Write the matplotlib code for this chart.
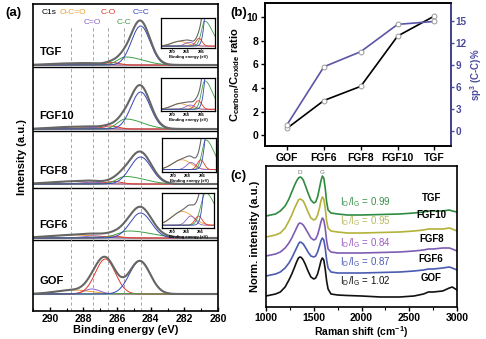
import matplotlib
matplotlib.use("Agg")
import matplotlib.pyplot as plt
import numpy as np
from matplotlib.ticker import MultipleLocator

plt.rcParams['font.family'] = ['Liberation Sans', 'DejaVu Sans']
plt.rcParams['font.weight'] = 'bold'
plt.rcParams['axes.labelweight'] = 'bold'
plt.rcParams['mathtext.default'] = 'regular'

W, H = 486, 339

# ---------------- XPS C1s fits (panel a) ----------------
samples = ['GOF', 'FGF6', 'FGF8', 'FGF10', 'TGF']
comp_names = ['O-C=O', 'C=O', 'C-O', 'C-C', 'C=C']
comp_colors = ['#f0a030', '#8a62c8', '#e0392a', '#3f9f45', '#3444b8']
comp_centers = [288.75, 287.45, 286.55, 285.6, 284.6]
label_pos = [288.6, 287.5, 286.55, 285.6, 284.6]
# vertical offset of each spectrum in the stack
offsets = [17, 73, 127, 182, 246]
# [center, width on high-BE side, width on low-BE side, height] per component
peaks = {
    'GOF':   [[288.6, 2.5, 2.5, 4.0], [287.5, 1.1, 1.1, 5.0], [286.7, 1.4, 1.4, 35.0],
              [285.6, 1.2, 1.2, 0.5], [284.65, 1.45, 1.45, 33.0]],
    'FGF6':  [[288.6, 3.5, 3.5, 3.0], [287.4, 1.5, 1.5, 2.0], [286.3, 1.2, 1.2, 2.0],
              [285.3, 1.6, 3.2, 7.0], [284.6, 1.5, 1.5, 25.0]],
    'FGF8':  [[288.8, 3.0, 3.0, 2.5], [287.5, 1.5, 1.5, 1.8], [286.2, 1.1, 1.1, 2.5],
              [285.5, 1.2, 2.6, 7.5], [284.6, 1.5, 1.5, 27.0]],
    'FGF10': [[288.9, 2.6, 2.6, 2.0], [287.5, 1.5, 1.5, 1.5], [286.4, 1.1, 1.1, 3.0],
              [285.5, 1.1, 2.4, 10.0], [284.6, 1.35, 1.35, 37.0]],
    'TGF':   [[289.0, 2.5, 2.5, 1.5], [287.6, 1.5, 1.5, 1.2], [286.3, 1.0, 1.0, 2.5],
              [285.5, 1.1, 2.4, 8.0], [284.6, 1.3, 1.3, 39.0]],
}
inset_top = {'FGF6': 7, 'FGF8': 8, 'FGF10': 11, 'TGF': 9}
# inset boxes in pixels: left, top, right, bottom
inset_box = {'TGF': (161, 18, 215, 48), 'FGF10': (161, 78, 215, 111),
             'FGF8': (162, 138, 216, 172), 'FGF6': (162, 193, 214, 228)}

# ---------------- panel b ----------------
b_cats = ['GOF', 'FGF6', 'FGF8', 'FGF10', 'TGF']
ratio = [0.6, 2.95, 4.15, 8.4, 10.1]
sp3 = [0.9, 8.75, 10.8, 14.5, 14.9]

# ---------------- Raman spectra (panel c) ----------------
shift = [1000, 1100, 1150, 1200, 1240, 1270, 1300, 1320, 1340, 1355, 1370, 1390, 1410,
         1440, 1470, 1500, 1520, 1540, 1560, 1575, 1590, 1605, 1620, 1635, 1650, 1680,
         1750, 1850, 2000, 2200, 2400, 2550, 2650, 2700, 2750, 2850, 2920, 2950, 3000]
raman = {
    'GOF':   [11, 13, 15, 20, 27, 33, 40, 45, 49, 50, 49.5, 47, 43, 36, 30, 28, 29, 33, 40,
              46, 49, 47, 38, 26, 18, 13, 12, 11.5, 11, 10, 10, 11, 13, 15, 15, 16, 19, 20, 17],
    'FGF6':  [31, 33, 35, 39, 44, 49, 55, 59, 63, 65, 64.5, 63, 60, 55, 51, 50, 51, 55, 61,
              66, 69, 67, 59, 47, 39, 35, 34, 34, 34, 34.5, 35, 36, 37, 38, 38, 39, 40, 39, 37],
    'FGF8':  [51, 53, 55, 59, 64, 69, 75, 79, 83, 84, 83.5, 82, 79, 74, 69, 67, 68, 72, 79,
              85, 89, 87, 79, 66, 58, 55, 54, 54, 54, 54.5, 55, 56, 57, 58, 58, 59, 59, 58, 56],
    'FGF10': [70, 72, 74, 79, 86, 92, 99, 103, 107, 108, 107.5, 106, 102, 95, 89, 87, 88, 92,
              99, 106, 110, 108, 99, 86, 79, 76, 75, 74, 74, 74.5, 75, 76, 77, 78, 78, 78, 79,
              78, 76],
    'TGF':   [91, 93, 96, 101, 108, 115, 122, 126, 129, 130, 129.5, 127, 122, 114, 107, 104,
              105, 110, 119, 126, 131, 129, 119, 105, 97, 94, 93, 92, 92, 92.5, 93, 94, 95, 96,
              96, 96, 97, 96, 95],
}
raman_colors = {'GOF': '#111111', 'FGF6': '#4a5bb0', 'FGF8': '#7d5cb4',
                'FGF10': '#b3b23a', 'TGF': '#2f8b40'}
text_colors = {'GOF': '#111111', 'FGF6': '#4a5bb0', 'FGF8': '#9a5cc0',
               'FGF10': '#b8b860', 'TGF': '#3a8f4a'}
id_ig = {'GOF': '1.02', 'FGF6': '0.87', 'FGF8': '0.84', 'FGF10': '0.95', 'TGF': '0.99'}
name_y = {'GOF': 24, 'FGF6': 43, 'FGF8': 63, 'FGF10': 87, 'TGF': 104}
ratio_y = {'GOF': 19, 'FGF6': 38, 'FGF8': 57, 'FGF10': 79, 'TGF': 98}


def box(l, t, r, b):
    return [l / W, 1 - b / H, (r - l) / W, (b - t) / H]


def split_gauss(x, c, wh, wl, h):
    w = np.where(x > c, wh, wl)
    return h * np.exp(-4 * np.log(2) * ((x - c) / w) ** 2)


fig = plt.figure(figsize=(W / 100, H / 100), dpi=100)
E = np.linspace(291.6, 280, 600)

# ---- (a) ----
ax = fig.add_axes(box(33, 4, 218, 311))
ax.set_xlim(291, 280)
ax.set_ylim(0, 307)
for sep in [71, 123, 180, 244]:
    ax.axhline(sep, color='black', lw=1.0)
for c in comp_centers:
    ax.plot([c, c], [0, 284], ls=(0, (4, 3)), color='#9a9a9a', lw=0.6)

for s, off in zip(samples, offsets):
    comps = [split_gauss(E, *p) for p in peaks[s]]
    env = np.sum(comps, axis=0)
    ax.plot(E, np.full_like(E, off), color='#bbbbbb', lw=0.8)
    for y, col in zip(comps, comp_colors):
        ax.plot(E, off + y, color=col, lw=0.7)
    ax.plot(E, off + env, color='#666666', lw=1.5)
    ax.text(290.6, off + 8, s, fontsize=8, fontweight='bold', va='bottom')

    if s in inset_box:
        ia = fig.add_axes(box(*inset_box[s]))
        for y, col in zip(comps, comp_colors):
            ia.plot(E, y, color=col, lw=0.6)
        ia.plot(E, env, color='#666666', lw=0.8)
        ia.set_xlim(291.5, 284.1)
        ia.set_ylim(-0.6, inset_top[s])
        ia.set_yticks([])
        ia.set_xticks([290, 288, 286])
        ia.tick_params(axis='x', labelsize=3, length=1.2, width=0.4, pad=0.5)
        ia.set_xlabel('Binding energy (eV)', fontsize=3, labelpad=0.5)
        for sp in ia.spines.values():
            sp.set_linewidth(0.9)

ax.text(290.05, 298, 'C1s', fontsize=6, fontweight='normal', ha='center', va='center')
lab_y = [298, 288, 298, 288, 298]
for name, col, c, ly in zip(comp_names, comp_colors, label_pos, lab_y):
    ax.text(c, ly, name, color=col, fontsize=6, fontweight='normal', ha='center', va='center')

ax.set_yticks([])
ax.xaxis.set_major_locator(MultipleLocator(2))
ax.xaxis.set_minor_locator(MultipleLocator(1))
ax.tick_params(axis='x', labelsize=7.5, direction='in', length=3, width=1, pad=2)
ax.tick_params(axis='x', which='minor', direction='in', length=2, width=0.8)
ax.set_xlabel('Binding energy (eV)', fontsize=8, labelpad=1)
ax.set_ylabel('Intensity (a.u.)', fontsize=8, labelpad=4)
for sp in ax.spines.values():
    sp.set_linewidth(1.2)

# ---- (b) ----
bx = fig.add_axes(box(265, 3, 451, 146))
xb = np.arange(len(b_cats))
bx.plot(xb, ratio, color='black', lw=1.2, marker='o', ms=3.5, mfc='white', mec='#999999',
        mew=0.7, zorder=3)
bx.set_xlim(-0.6, 4.45)
bx.set_ylim(-0.9, 11.2)
bx.set_xticks(xb)
bx.set_xticklabels(b_cats)
bx.set_yticks([0, 2, 4, 6, 8, 10])
bx.tick_params(labelsize=7.5, direction='out', length=3, width=1, pad=2)
bx.set_ylabel('C$_{carbon}$/C$_{oxide}$ ratio', fontsize=8, labelpad=3)
blue = '#4b4b9e'
bx2 = bx.twinx()
bx2.plot(xb, sp3, color='#5a55a6', lw=1.2, marker='o', ms=3.5, mfc='white', mec='#999999',
         mew=0.7)
bx2.set_ylim(-2.0, 17.4)
bx2.set_yticks([0, 3, 6, 9, 12, 15])
bx2.tick_params(labelsize=7.2, direction='out', length=2.5, width=1, pad=1,
                colors=blue)
bx2.set_ylabel('sp$^3$ (C-C)%', fontsize=7, color=blue)
bx2.yaxis.set_label_coords(1.095, 0.5)
for sp in bx.spines.values():
    sp.set_linewidth(1.2)
for sp in bx2.spines.values():
    sp.set_linewidth(1.2)
bx2.spines['right'].set_color(blue)

# ---- (c) ----
cx = fig.add_axes(box(266, 166, 457, 307))
for s in samples:
    cx.plot(shift, raman[s], color=raman_colors[s], lw=1.2)
    cx.text(2730, name_y[s], s, fontsize=7, fontweight='bold', ha='center', va='bottom')
    cx.text(1780, ratio_y[s], 'I$_D$/I$_G$ = ' + id_ig[s], fontsize=7, fontweight='normal',
            color=text_colors[s], va='bottom')
cx.text(1350, 134, 'D', fontsize=4.5, fontweight='normal', color='#777777', ha='center',
        va='center')
cx.text(1590, 134, 'G', fontsize=4.5, fontweight='normal', color='#777777', ha='center',
        va='center')
cx.set_xlim(1000, 3000)
cx.set_ylim(0, 141)
cx.set_yticks([])
cx.xaxis.set_major_locator(MultipleLocator(500))
cx.xaxis.set_minor_locator(MultipleLocator(250))
cx.tick_params(axis='x', labelsize=7.5, direction='out', length=3, width=1, pad=1.5)
cx.tick_params(axis='x', which='minor', length=2, width=0.8)
cx.set_xlabel('Raman shift (cm$^{-1}$)', fontsize=7.5, labelpad=0.5)
cx.set_ylabel('Norm. intensity (a.u.)', fontsize=8, labelpad=4)
for sp in cx.spines.values():
    sp.set_linewidth(1.2)

fig.text(5 / W, 1 - 13 / H, '(a)', fontsize=9.5, fontweight='bold', va='center')
fig.text(230 / W, 1 - 13 / H, '(b)', fontsize=9.5, fontweight='bold', va='center')
fig.text(230 / W, 1 - 176 / H, '(c)', fontsize=9.5, fontweight='bold', va='center')

fig.savefig('out.png', dpi=100)
